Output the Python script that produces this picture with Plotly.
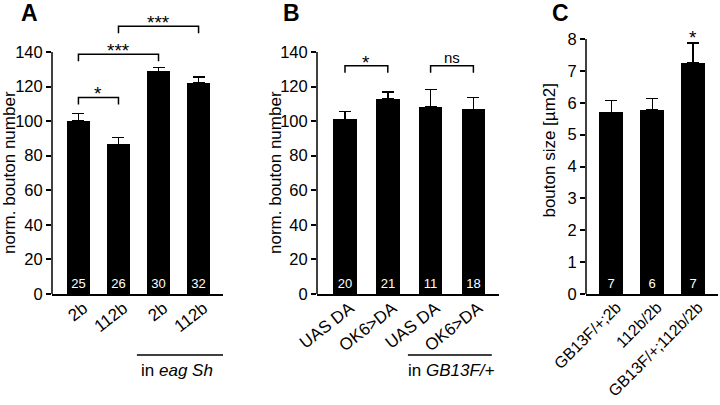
import plotly.graph_objects as go

FONT = "Arial, 'Liberation Sans', sans-serif"

# ---------------- data ----------------
a_labels = ["2b", "112b", "2b", "112b"]
a_values = [100, 86.5, 128.8, 122]
a_errors = [4.5, 4.0, 2.2, 3.6]
a_counts = ["25", "26", "30", "32"]
a_sig = [(0, 1, "*", 113.7), (0, 2, "***", 138.7), (1, 3, "***", 154.9)]

b_labels = ["UAS DA", "OK6>DA", "UAS DA", "OK6>DA"]
b_values = [101, 112.8, 108.2, 106.8]
b_errors = [4.5, 4.0, 10.0, 6.8]
b_counts = ["20", "21", "11", "18"]
b_sig = [(0, 1, "*", 132), (2, 3, "ns", 132)]

c_labels = ["GB13F/+;2b", "112b/2b", "GB13F/+;112b/2b"]
c_values = [5.7, 5.77, 7.26]
c_errors = [0.37, 0.37, 0.62]
c_counts = ["7", "6", "7"]
c_sig = [(2, "*")]

W, H = 720, 405
Y_TOP, Y_BOT = 17, 294  # plot area pixel rows


def px(v):
    return v / W


def py(v):
    return 1 - v / H


panels = [
    dict(key="", labels=a_labels, values=a_values, errors=a_errors, counts=a_counts,
         xdom=(52, 223), xr=(-0.66, 3.61), bw=0.58, ymax=140, ppu=(294 - 52) / 140,
         ticks=list(range(0, 141, 20)), angle=-38, xfs=17),
    dict(key="2", labels=b_labels, values=b_values, errors=b_errors, counts=b_counts,
         xdom=(317, 499), xr=(-0.654, 3.598), bw=0.55, ymax=140, ppu=(294 - 52) / 140,
         ticks=list(range(0, 141, 20)), angle=-38, xfs=17),
    dict(key="3", labels=c_labels, values=c_values, errors=c_errors, counts=c_counts,
         xdom=(586, 717.7), xr=(-0.62, 2.6), bw=0.59, ymax=8, ppu=(294 - 39) / 8,
         ticks=list(range(0, 9)), angle=-45, xfs=16),
]

fig = go.Figure()
shapes = []
annotations = []

for p in panels:
    k = p["key"]
    xa, ya = "x" + k, "y" + k
    n = len(p["values"])
    xs = list(range(n))
    fig.add_trace(go.Bar(
        x=xs, y=p["values"], xaxis=xa, yaxis=ya, width=p["bw"],
        marker=dict(color="black", line=dict(width=0)),
        error_y=dict(type="data", array=p["errors"], arrayminus=[0] * n, symmetric=False,
                     color="black", thickness=1.5, width=6),
        text=p["counts"], textposition="inside", insidetextanchor="start",
        textangle=0, constraintext="none",
        textfont=dict(color="white", size=13, family=FONT),
        showlegend=False, hoverinfo="skip",
    ))
    yr_top = (Y_BOT - Y_TOP) / p["ppu"]
    layout_x = dict(domain=[px(p["xdom"][0]), px(p["xdom"][1])], range=list(p["xr"]),
                    anchor=ya, showline=True, linecolor="black", linewidth=1.5,
                    ticks="", tickvals=xs, ticktext=p["labels"], tickangle=p["angle"],
                    ticklabelstandoff=-4, ticklabelshift=5,
                    tickfont=dict(size=p["xfs"], color="black", family=FONT),
                    showgrid=False, zeroline=False, fixedrange=True, automargin=False)
    layout_y = dict(domain=[py(Y_BOT), py(Y_TOP)], range=[0, yr_top], anchor=xa,
                    showline=False, ticks="outside", ticklen=5, tickwidth=1.5,
                    tickcolor="black", tickvals=p["ticks"],
                    tickfont=dict(size=16.5, color="black", family=FONT),
                    showgrid=False, zeroline=False, fixedrange=True, automargin=False)
    fig.update_layout(**{"xaxis" + k: layout_x, "yaxis" + k: layout_y})
    # y axis line up to the top tick
    shapes.append(dict(type="line", xref=xa + " domain", yref=ya, x0=0, x1=0,
                       y0=0, y1=p["ymax"], line=dict(color="black", width=1.5)))
    p["xa"], p["ya"] = xa, ya

# significance brackets
for p, sig in ((panels[0], a_sig), (panels[1], b_sig)):
    leg = 7 / p["ppu"]
    for i, j, txt, lvl in sig:
        fig.add_trace(go.Scatter(
            x=[i, i, j, j], y=[lvl - leg, lvl, lvl, lvl - leg], xaxis=p["xa"], yaxis=p["ya"],
            mode="lines", line=dict(color="black", width=1.5),
            showlegend=False, hoverinfo="skip"))
        star = "*" in txt
        annotations.append(dict(
            x=(i + j) / 2, y=lvl, xref=p["xa"], yref=p["ya"], text=txt, showarrow=False,
            yanchor="bottom", yshift=-9 if star else -2,
            font=dict(size=19 if star else 15, color="black", family=FONT)))

pc = panels[2]
for i, txt in c_sig:
    annotations.append(dict(
        x=i, y=c_values[i] + c_errors[i], xref=pc["xa"], yref=pc["ya"], text=txt,
        showarrow=False, yanchor="bottom", yshift=-7,
        font=dict(size=19, color="black", family=FONT)))

# y axis titles
for p, xp, title, ymid in ((panels[0], 9, "norm. bouton number", 70),
                           (panels[1], 275, "norm. bouton number", 70),
                           (panels[2], 550, "bouton size [µm2]", 4.5)):
    annotations.append(dict(x=px(xp), y=ymid, xref="paper", yref=p["ya"], text=title,
                            textangle=-90, showarrow=False, xanchor="center", yanchor="middle",
                            font=dict(size=17, color="black", family=FONT)))

# panel letters
for letter, xp in (("A", 29), ("B", 291), ("C", 560)):
    annotations.append(dict(x=px(xp), y=py(13), xref="paper", yref="paper", text="<b>%s</b>" % letter,
                            showarrow=False, xanchor="center", yanchor="middle",
                            font=dict(size=23, color="black", family=FONT)))

# group labels with underline
for p, x0, x1, xt, label in ((panels[0], 1.46, 3.61, 2.45, "in <i>eag Sh</i>"),
                             (panels[1], 1.47, 3.43, 2.48, "in <i>GB13F/+</i>")):
    shapes.append(dict(type="line", xref=p["xa"], yref="paper", x0=x0, x1=x1,
                       y0=py(355), y1=py(355), line=dict(color="black", width=1.5)))
    annotations.append(dict(x=xt, y=py(370), xref=p["xa"], yref="paper", text=label,
                            showarrow=False, xanchor="center", yanchor="middle",
                            font=dict(size=17, color="black", family=FONT)))

fig.update_layout(
    width=W, height=H, margin=dict(l=0, r=0, t=0, b=0, autoexpand=False),
    paper_bgcolor="white", plot_bgcolor="white",
    shapes=shapes, annotations=annotations, bargap=0,
    font=dict(family=FONT, color="black"),
)

fig.write_html("out.html", config={"displayModeBar": False},
               post_script="document.body.style.margin='0';document.body.style.overflow='hidden';")
